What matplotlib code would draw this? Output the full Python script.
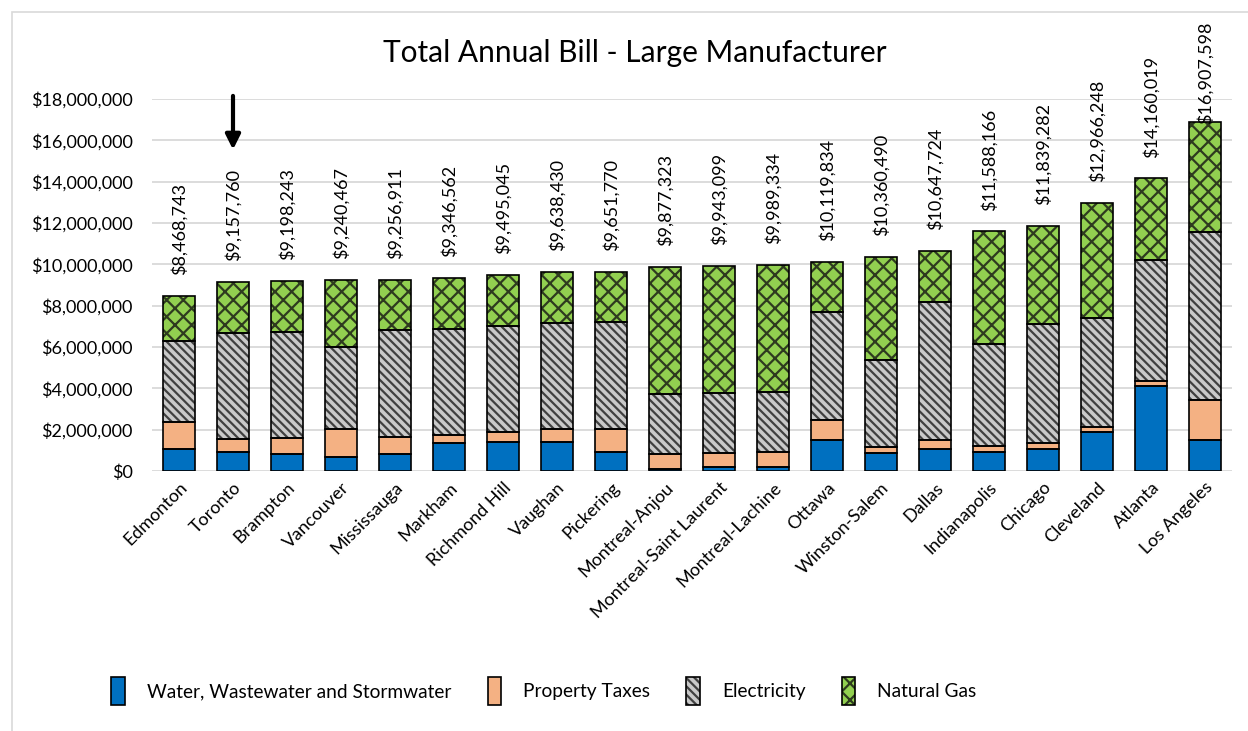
import numpy as np
import matplotlib
matplotlib.use('Agg')
import matplotlib.pyplot as plt
from matplotlib.patches import Rectangle
from matplotlib.ticker import FuncFormatter, MultipleLocator

plt.rcParams['font.family'] = ['Lato', 'DejaVu Sans']
plt.rcParams['hatch.linewidth'] = 1.6

# data (millions of dollars per year)
cities = ['Edmonton', 'Toronto', 'Brampton', 'Vancouver', 'Mississauga', 'Markham',
          'Richmond Hill', 'Vaughan', 'Pickering', 'Montreal-Anjou',
          'Montreal-Saint Laurent', 'Montreal-Lachine', 'Ottawa', 'Winston-Salem',
          'Dallas', 'Indianapolis', 'Chicago', 'Cleveland', 'Atlanta', 'Los Angeles']
water = [1.08, 0.92, 0.81, 0.66, 0.82, 1.37, 1.42, 1.39, 0.94, 0.11,
         0.21, 0.18, 1.50, 0.86, 1.06, 0.90, 1.06, 1.90, 4.11, 1.50]
property_taxes = [1.29, 0.63, 0.79, 1.39, 0.82, 0.39, 0.48, 0.63, 1.09, 0.73,
                  0.68, 0.76, 0.97, 0.32, 0.44, 0.31, 0.31, 0.23, 0.24, 1.93]
electricity = [3.92, 5.14, 5.14, 3.93, 5.17, 5.12, 5.13, 5.16, 5.16, 2.89,
               2.87, 2.88, 5.21, 4.21, 6.68, 4.92, 5.76, 5.27, 5.86, 8.15]
natural_gas = [2.18, 2.47, 2.46, 3.26, 2.45, 2.47, 2.47, 2.46, 2.46, 6.15,
               6.18, 6.17, 2.44, 4.97, 2.47, 5.46, 4.71, 5.57, 3.95, 5.33]
totals = [8468743, 9157760, 9198243, 9240467, 9256911, 9346562, 9495045, 9638430,
          9651770, 9877323, 9943099, 9989334, 10119834, 10360490, 10647724,
          11588166, 11839282, 12966248, 14160019, 16907598]

highlight = 'Toronto'

series = [
    ('Water, Wastewater and Stormwater', water, '#0070C0', None, None),
    ('Property Taxes', property_taxes, '#F4B183', None, None),
    ('Electricity', electricity, '#C9C9C9', '\\\\\\\\', '#404040'),
    ('Natural Gas', natural_gas, '#92D050', 'xx', '#2E3B1F'),
]

W, H = 1248, 731
fig = plt.figure(figsize=(W / 100, H / 100), dpi=100)
ax = fig.add_axes([152 / W, 1 - 471 / H, 1080 / W, 372 / H])

x = np.arange(len(cities))
width = 0.59
bottom = np.zeros(len(cities))
handles = []
for name, vals, color, hatch, hcolor in series:
    v = np.array(vals) * 1e6
    if hatch:
        fill = ax.bar(x, v, width, bottom=bottom, color=color, hatch=hatch,
                      edgecolor=hcolor, linewidth=0, zorder=2)
    else:
        fill = ax.bar(x, v, width, bottom=bottom, color=color, linewidth=0, zorder=2)
    edge = ax.bar(x, v, width, bottom=bottom, facecolor='none',
                  edgecolor='black', linewidth=1.2, zorder=3)
    handles.append((fill[0], edge[0]))
    bottom += v

labels = []
for xi, t in zip(x, totals):
    a = ax.annotate('${:,}'.format(t), (xi, t), xytext=(0, 15), textcoords='offset points',
                    rotation=90, ha='center', va='bottom', fontsize=13,
                    annotation_clip=False, zorder=4)
    labels.append(a)

# arrow pointing at the highlighted city
hi = cities.index(highlight)
ax.annotate('', xy=(hi, 15.55e6), xytext=(hi, 18.15e6),
            arrowprops=dict(arrowstyle='-|>', lw=3, color='black', mutation_scale=22,
                            shrinkA=0, shrinkB=0),
            annotation_clip=False)

ax.set_xlim(-0.5, len(cities) - 0.5)
ax.set_ylim(0, 18e6)
ax.yaxis.set_major_locator(MultipleLocator(2e6))
ax.yaxis.set_major_formatter(FuncFormatter(lambda v, p: '${:,.0f}'.format(v)))
ax.grid(axis='y', color='#D9D9D9', linewidth=1.3, zorder=0)
ax.set_axisbelow(True)
for s in ax.spines.values():
    s.set_visible(False)
ax.tick_params(axis='y', length=0, pad=14, labelsize=13)
ax.tick_params(axis='x', length=0, pad=6, labelsize=13)
ax.set_xticks(x)
ax.set_xticklabels(cities, rotation=45, ha='right', rotation_mode='anchor')

fig.text(635 / W, 1 - 62 / H, 'Total Annual Bill - Large Manufacturer',
         ha='center', va='baseline', fontsize=21.5)

ax.legend(handles, [s[0] for s in series], loc='center', ncol=4, frameon=False,
          bbox_to_anchor=(544 / W, 1 - 691 / H), bbox_transform=fig.transFigure,
          fontsize=13.8, handlelength=0.7, handleheight=1.8, handletextpad=1.15,
          columnspacing=1.9)

fig.patches.append(Rectangle((12 / W, -0.01), 1.0, 1 - 12 / H + 0.01,
                             transform=fig.transFigure, fill=False,
                             edgecolor='#D9D9D9', linewidth=1.2))

# labels that would run off the top are pushed down, like the spreadsheet does
fig.canvas.draw()
r = fig.canvas.get_renderer()
top_limit = H - 22
for a in labels:
    bb = a.get_window_extent(r)
    if bb.y1 > top_limit:
        ox, oy = a.xyann
        a.xyann = (ox, oy - (bb.y1 - top_limit) * 72 / fig.dpi)

fig.savefig('out.png', dpi=100)
